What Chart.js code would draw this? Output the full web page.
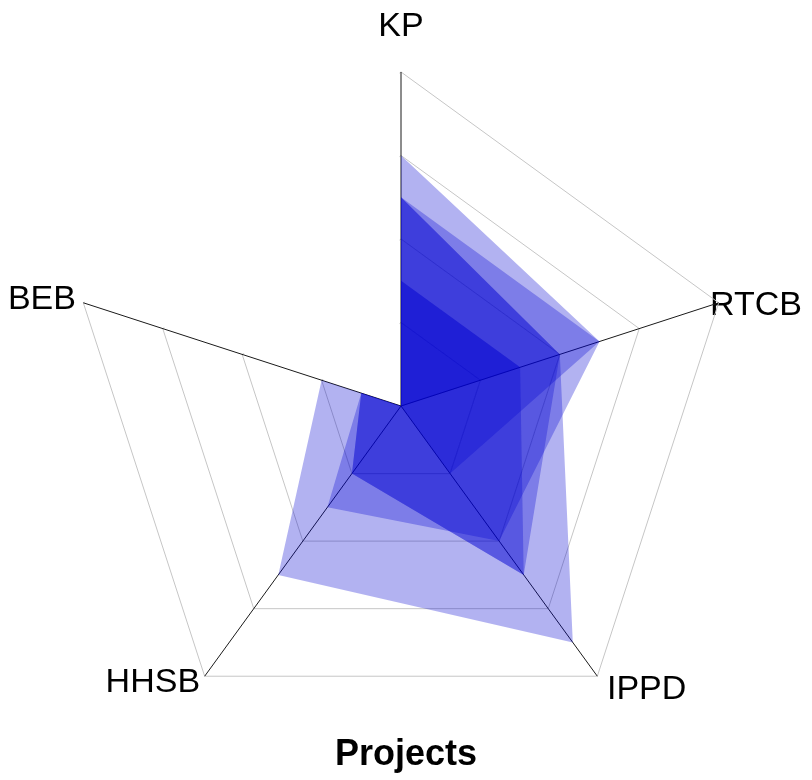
<!DOCTYPE html>
<html>
<head>
<meta charset="utf-8">
<title>Projects</title>
<script src="https://cdn.jsdelivr.net/npm/chart.js@4.4.1/dist/chart.umd.min.js"></script>
<style>
  html, body { margin: 0; padding: 0; background: #fff; }
  #wrap { width: 812px; height: 780px; position: relative; }
</style>
</head>
<body>
<div id="wrap"><canvas id="radar"></canvas></div>
<script>
// ================== DATA ==================
const axisLabels = ['KP', 'RTCB', 'IPPD', 'HHSB', 'BEB'];

const projectA = [6, 5, 4, 3, 1];
const projectB = [5, 5, 2, 0, 0];
const projectC = [5, 4, 7, 5, 2];
const projectD = [5, 4, 5, 2, 1];
const projectE = [3, 3, 5, 2, 1];
const projectF = [3, 3, 0, 0, 0];

const scaleMax = 8;
const scaleStep = 2;

const fillColor = 'rgba(0, 0, 210, 0.3)';
const labelFont = 'Liberation Sans, Arial, sans-serif';

// ================== OPEN GRID BETWEEN LAST AND FIRST AXIS ==================
// the reference does not close the grid rings between BEB and KP,
// so that wedge is blanked (kept clear of the two axis lines) before the fills
const openWedge = {
  id: 'openWedge',
  beforeDatasetsDraw(chart) {
    const r = chart.scales.r;
    const n = axisLabels.length;
    const c = { x: r.xCenter, y: r.yCenter };
    const first = r.getPointPosition(0, r.drawingArea + 3);
    const last = r.getPointPosition(n - 1, r.drawingArea + 3);
    const unit = p => {
      const dx = p.x - c.x, dy = p.y - c.y, l = Math.hypot(dx, dy);
      return { x: dx / l, y: dy / l };
    };
    const u1 = unit(first), u2 = unit(last);
    const dot = u1.x * u2.x + u1.y * u2.y;
    const perp = (a, b) => {
      const x = b.x - dot * a.x, y = b.y - dot * a.y, l = Math.hypot(x, y);
      return { x: x / l, y: y / l };
    };
    const n1 = perp(u1, u2), n2 = perp(u2, u1);
    const gap = 1.5;
    const half = Math.acos(dot) / 2;
    const bis = { x: u1.x + u2.x, y: u1.y + u2.y };
    const bl = Math.hypot(bis.x, bis.y);
    const d = gap / Math.sin(half);
    const ctx = chart.ctx;
    ctx.save();
    ctx.beginPath();
    ctx.moveTo(c.x + d * bis.x / bl, c.y + d * bis.y / bl);
    ctx.lineTo(first.x + gap * n1.x, first.y + gap * n1.y);
    ctx.lineTo(last.x + gap * n2.x, last.y + gap * n2.y);
    ctx.closePath();
    ctx.fillStyle = '#fff';
    ctx.fill();
    ctx.restore();
  }
};

// ================== FILL AS A FAN FROM THE CENTER ==================
// each polygon goes center -> KP -> ... -> BEB -> center, so the BEB-KP wedge stays empty
const fanFill = {
  id: 'fanFill',
  afterDatasetDraw(chart, args) {
    const scale = chart.scales.r;
    const pts = args.meta.data;
    const ctx = chart.ctx;
    ctx.save();
    ctx.beginPath();
    ctx.moveTo(scale.xCenter, scale.yCenter);
    pts.forEach(p => ctx.lineTo(p.x, p.y));
    ctx.closePath();
    ctx.fillStyle = chart.data.datasets[args.index].backgroundColor;
    ctx.fill();
    ctx.restore();
  }
};

const series = [projectA, projectB, projectC, projectD, projectE, projectF];

new Chart(document.getElementById('radar'), {
  type: 'radar',
  data: {
    labels: axisLabels,
    datasets: series.map((s, i) => ({
      label: 'Project ' + (i + 1),
      data: s,
      backgroundColor: fillColor,
      borderWidth: 0,
      pointRadius: 0,
      pointHoverRadius: 0,
      fill: false
    }))
  },
  options: {
    responsive: true,
    maintainAspectRatio: false,
    animation: false,
    layout: { padding: { top: 4, left: 0, right: 0, bottom: 0 } },
    elements: { line: { tension: 0 } },
    plugins: {
      legend: { display: false },
      tooltip: { enabled: false },
      title: {
        display: true,
        position: 'bottom',
        text: 'Projects',
        color: '#000',
        font: { family: labelFont, size: 36, weight: 'bold', lineHeight: 1.2 },
        padding: { top: -31, bottom: 3.8 }
      }
    },
    scales: {
      r: {
        min: 0,
        max: scaleMax,
        ticks: { stepSize: scaleStep, display: false },
        grid: { color: '#c6c6c6', lineWidth: 1 },
        angleLines: { color: '#1a1a1a', lineWidth: 1 },
        pointLabels: {
          color: '#000',
          font: { family: labelFont, size: 34, lineHeight: 0.02 },
          padding: ctx => [45.3, -9, 16.4, 7.8, 7.8][ctx.index]
        }
      }
    }
  },
  plugins: [openWedge, fanFill]
});
</script>
</body>
</html>
